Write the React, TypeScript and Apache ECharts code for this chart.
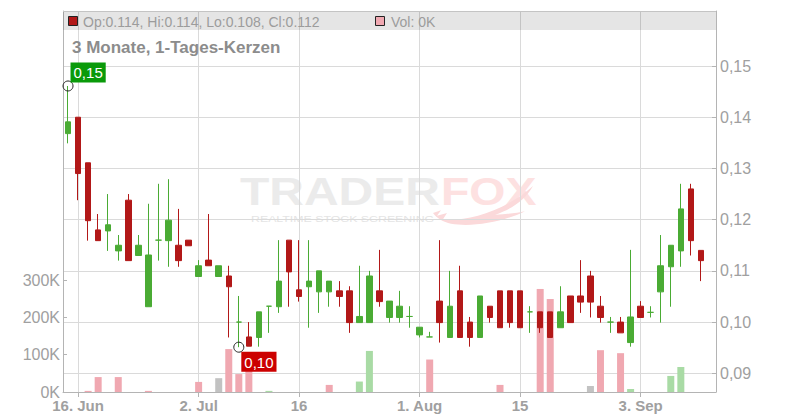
import React, { useEffect, useRef } from "react";
import * as echarts from "echarts";

// ---------- data ----------
const dates = [
  "2025-06-13", "2025-06-16", "2025-06-17", "2025-06-18", "2025-06-19", "2025-06-20",
  "2025-06-23", "2025-06-24", "2025-06-25", "2025-06-26", "2025-06-27", "2025-06-30",
  "2025-07-01", "2025-07-02", "2025-07-03", "2025-07-04", "2025-07-07", "2025-07-08",
  "2025-07-09", "2025-07-10", "2025-07-11", "2025-07-14", "2025-07-15", "2025-07-16",
  "2025-07-17", "2025-07-18", "2025-07-21", "2025-07-22", "2025-07-23", "2025-07-24",
  "2025-07-25", "2025-07-28", "2025-07-29", "2025-07-30", "2025-07-31", "2025-08-01",
  "2025-08-04", "2025-08-05", "2025-08-06", "2025-08-07", "2025-08-08", "2025-08-11",
  "2025-08-12", "2025-08-13", "2025-08-14", "2025-08-15", "2025-08-18", "2025-08-19",
  "2025-08-20", "2025-08-21", "2025-08-22", "2025-08-26", "2025-08-27", "2025-08-28",
  "2025-08-29", "2025-09-01", "2025-09-02", "2025-09-03", "2025-09-04", "2025-09-05",
  "2025-09-08", "2025-09-09", "2025-09-10", "2025-09-11", "2025-09-12",
];

const opens = [
  0.1368, 0.1400, 0.1311, 0.1180, 0.1178, 0.1139, 0.1238, 0.1130, 0.1030, 0.1160,
  0.1159, 0.1150, 0.1160, 0.1089, 0.1121, 0.1089, 0.1090, 0.1000, 0.0971, 0.0970,
  0.1031, 0.1030, 0.1160, 0.1063, 0.1069, 0.1059, 0.1059, 0.1061, 0.1061, 0.0999,
  0.0999, 0.1061, 0.1009, 0.1009, 0.1011, 0.0975, 0.0971, 0.1041, 0.0970, 0.1061,
  0.1000, 0.0970, 0.1031, 0.1061, 0.1061, 0.1061, 0.1020, 0.1020, 0.1020, 0.0989,
  0.1051, 0.1051, 0.1090, 0.1031, 0.1000, 0.1000, 0.0960, 0.1031, 0.1019, 0.1059,
  0.1108, 0.1139, 0.1260, 0.1140,
];
const highs = [
  0.1461, 0.1400, 0.1311, 0.1211, 0.1250, 0.1170, 0.1250, 0.1170, 0.1231, 0.1270,
  0.1279, 0.1221, 0.1160, 0.1121, 0.1211, 0.1110, 0.1110, 0.1051, 0.1000, 0.1020,
  0.1031, 0.1160, 0.1160, 0.1160, 0.1160, 0.1100, 0.1080, 0.1080, 0.1070, 0.1110,
  0.1100, 0.1141, 0.1041, 0.1061, 0.1031, 0.0990, 0.0981, 0.1160, 0.1100, 0.1110,
  0.1010, 0.1051, 0.1031, 0.1061, 0.1061, 0.1061, 0.1031, 0.1020, 0.1020, 0.1070,
  0.1051, 0.1121, 0.1100, 0.1051, 0.1010, 0.1010, 0.1141, 0.1041, 0.1031, 0.1170,
  0.1150, 0.1270, 0.1270, 0.1140,
];
const lows = [
  0.1349, 0.1238, 0.1159, 0.1159, 0.1139, 0.1120, 0.1120, 0.1130, 0.1030, 0.1120,
  0.1108, 0.1108, 0.1149, 0.1089, 0.1110, 0.1089, 0.0970, 0.0951, 0.0953, 0.0952,
  0.0979, 0.1018, 0.1030, 0.1040, 0.0989, 0.1018, 0.1030, 0.1030, 0.0979, 0.0999,
  0.0999, 0.1030, 0.0999, 0.0999, 0.0989, 0.0970, 0.0971, 0.0960, 0.0970, 0.0970,
  0.0952, 0.0970, 0.0999, 0.0989, 0.0989, 0.0989, 0.0979, 0.0979, 0.0970, 0.0989,
  0.0999, 0.1018, 0.1009, 0.0999, 0.0979, 0.0979, 0.0952, 0.1009, 0.1009, 0.0999,
  0.1030, 0.1108, 0.1130, 0.1080,
];
const closes = [
  0.1391, 0.1290, 0.1198, 0.1159, 0.1190, 0.1150, 0.1120, 0.1150, 0.1131, 0.1160,
  0.1199, 0.1120, 0.1149, 0.1110, 0.1110, 0.1110, 0.1069, 0.1000, 0.0953, 0.1020,
  0.1031, 0.1080, 0.1098, 0.1050, 0.1080, 0.1100, 0.1080, 0.1050, 0.0999, 0.1011,
  0.1090, 0.1040, 0.1041, 0.1031, 0.1011, 0.0990, 0.0971, 0.0999, 0.1031, 0.0970,
  0.0970, 0.1051, 0.1009, 0.0989, 0.0999, 0.0989, 0.1020, 0.0989, 0.0970, 0.1020,
  0.0999, 0.1039, 0.1039, 0.1009, 0.1000, 0.0979, 0.1010, 0.1009, 0.1019, 0.1110,
  0.1150, 0.1221, 0.1159, 0.1120,
];
const volumes = [
  0, 0, 3000, 40000, 0, 40000, 0, 0, 3000, 0,
  0, 0, 0, 27000, 0, 37000, 115000, 48000, 60000, 0,
  3000, 0, 0, 0, 0, 0, 19000, 0, 0, 28000,
  110000, 0, 0, 0, 0, 0, 87000, 0, 0, 0,
  0, 0, 0, 19000, 0, 0, 0, 276000, 249000, 0,
  0, 0, 16000, 112000, 0, 104000, 8000, 0, 0, 0,
  43000, 67000, 0, 0,
];

const tickDates = ["2025-06-16", "2025-07-02", "2025-07-16", "2025-08-01", "2025-08-15", "2025-09-03"];
const tickLabels = ["16. Jun", "2. Jul", "16", "1. Aug", "15", "3. Sep"];
const titleText = "3 Monate, 1-Tages-Kerzen";

// ---------- style ----------
const FONT = '"Liberation Sans", Arial, Helvetica, sans-serif';
const RED = "#b21818";
const GREEN = "#4aab34";
const VOL_PINK = "#f0a8b1";
const VOL_GREEN = "#a9dba5";
const VOL_GRAY = "#c2c2c2";
const AXIS = "#b4b4b4";
const GRID = "#dadada";
const LABEL = "#a0a0a0";

echarts.graphic.registerShape(
  "foxtail",
  echarts.graphic.extendPath(
    "M0,30 L8,27 L4,33 L14,30 L10,37 C30,40 70,30 100,0 C92,16 78,26 62,32 C74,31 84,30 92,28 C70,40 40,46 18,42 C10,40 4,36 0,30 Z",
    {}
  )
);

export default function App() {
  const ref = useRef<HTMLDivElement>(null);

  useEffect(() => {
    if (!ref.current) return;
    const chart = echarts.init(ref.current, null, { renderer: "svg" });

    const tickIdx = tickDates.map((d) => dates.indexOf(d));
    const showTick = (index: number) => tickIdx.indexOf(index) >= 0;

    const candleData = opens.map((o, i) => {
      const c = closes[i];
      const item: any = { value: [o, c, lows[i], highs[i]] };
      if (o === c) {
        item.itemStyle = { color: GREEN, color0: GREEN, borderColor: GREEN, borderColor0: GREEN };
      }
      return item;
    });

    const volData = volumes.map((v, i) => {
      const prev = i > 0 ? closes[i - 1] : closes[i];
      const diff = closes[i] - prev;
      const color = Math.abs(diff) < 1e-9 ? VOL_GRAY : diff > 0 ? VOL_GREEN : VOL_PINK;
      return { value: v, itemStyle: { color } };
    });

    let hiIdx = 0;
    highs.forEach((h, i) => { if (h > highs[hiIdx]) hiIdx = i; });
    let loIdx = 0;
    lows.forEach((l, i) => { if (l < lows[loIdx]) loIdx = i; });
    const fmt2 = (v: number) => v.toFixed(2).replace(".", ",");

    const last = opens.length - 1;
    const legendText = `Op:${opens[last].toFixed(3)}, Hi:${highs[last].toFixed(3)}, Lo:${lows[last].toFixed(3)}, Cl:${closes[last].toFixed(3)}`;
    const volText = `Vol: ${Math.round(volumes[last] / 1000)}K`;
    const lastColor = closes[last] >= opens[last] ? GREEN : RED;

    const markLabel = {
      show: true,
      color: "#ffffff",
      fontSize: 15,
      fontFamily: FONT,
      padding: [2, 3, 1, 3],
      lineHeight: 17,
    };

    const option: any = {
      animation: false,
      backgroundColor: "#ffffff",
      textStyle: { fontFamily: FONT },
      grid: [
        { left: 63, right: 84, top: 11, bottom: 28 },
        { left: 63, right: 84, top: 66, bottom: 46.7 },
        { left: 63, right: 84, top: 280, bottom: 28 },
      ],
      xAxis: [
        {
          type: "category",
          gridIndex: 0,
          data: dates,
          boundaryGap: true,
          axisLine: { show: true, lineStyle: { color: AXIS } },
          axisTick: { show: true, interval: showTick, alignWithLabel: true, length: 5, lineStyle: { color: AXIS } },
          axisLabel: {
            interval: showTick,
            formatter: (value: string) => {
              const k = tickDates.indexOf(value);
              return k >= 0 ? tickLabels[k] : "";
            },
            color: LABEL,
            fontSize: 15,
            fontWeight: "bold",
            fontFamily: FONT,
            margin: 6,
          },
          splitLine: { show: true, interval: showTick, alignWithLabel: true, lineStyle: { color: GRID } },
        },
        { type: "category", gridIndex: 1, data: dates, show: false },
        { type: "category", gridIndex: 2, data: dates, show: false },
      ],
      yAxis: [
        {
          type: "value",
          gridIndex: 0,
          position: "right",
          min: 0.08635,
          max: 0.16074,
          axisLine: { show: true, lineStyle: { color: AXIS } },
          axisTick: { show: false },
          axisLabel: { show: false },
          splitLine: { show: false },
        },
        {
          type: "value",
          gridIndex: 0,
          position: "left",
          min: 0,
          max: 1,
          axisLine: { show: true, lineStyle: { color: AXIS } },
          axisTick: { show: false },
          axisLabel: { show: false },
          splitLine: { show: false },
        },
        {
          type: "value",
          gridIndex: 1,
          position: "right",
          min: 0.09,
          max: 0.15,
          interval: 0.01,
          axisLine: { show: false },
          axisTick: { show: true, inside: true, length: 4, lineStyle: { color: AXIS } },
          axisLabel: {
            formatter: (v: number) => fmt2(v),
            color: LABEL,
            fontSize: 16,
            fontFamily: FONT,
            margin: 4,
          },
          splitLine: { show: true, lineStyle: { color: GRID } },
        },
        {
          type: "value",
          gridIndex: 2,
          position: "left",
          min: 0,
          max: 300000,
          interval: 100000,
          axisLine: { show: false },
          axisTick: { show: true, inside: true, length: 4, lineStyle: { color: AXIS } },
          axisLabel: {
            formatter: (v: number) => `${Math.round(v / 1000)}K`,
            color: LABEL,
            fontSize: 16,
            fontFamily: FONT,
            margin: 3,
          },
          splitLine: { show: false },
        },
      ],
      series: [
        {
          type: "bar",
          xAxisIndex: 2,
          yAxisIndex: 3,
          data: volData,
          barWidth: 7,
          z: 1,
          silent: true,
        },
        {
          type: "candlestick",
          xAxisIndex: 0,
          yAxisIndex: 0,
          data: candleData,
          barWidth: 6,
          z: 3,
          silent: true,
          itemStyle: {
            color: GREEN,
            color0: RED,
            borderColor: GREEN,
            borderColor0: RED,
            borderWidth: 1,
          },
          markPoint: {
            symbol: "circle",
            symbolSize: 10,
            silent: true,
            itemStyle: { color: "rgba(255,255,255,0)", borderColor: "#222222", borderWidth: 1 },
            data: [
              {
                coord: [dates[hiIdx], highs[hiIdx]],
                label: { ...markLabel, backgroundColor: "#0a9a0a", position: [8, -18], formatter: fmt2(highs[hiIdx]) },
              },
              {
                coord: [dates[loIdx], lows[loIdx]],
                label: { ...markLabel, backgroundColor: "#cc0000", position: [8, 10], formatter: fmt2(lows[loIdx]) },
              },
            ],
          },
        },
      ],
      graphic: [
        // watermark
        {
          type: "text", x: 240, y: 191, scaleX: 1.23, z: -1, silent: true,
          style: { text: "TRADER", fontSize: 39, fontWeight: "bold", fontFamily: FONT, fill: "#ebebeb", verticalAlign: "middle" },
        },
        {
          type: "text", x: 441, y: 191, scaleX: 1.19, z: -1, silent: true,
          style: { text: "FOX", fontSize: 39, fontWeight: "bold", fontFamily: FONT, fill: "#fde1e1", verticalAlign: "middle" },
        },
        {
          type: "foxtail", x: 433, y: 186, scaleX: 1.0, scaleY: 0.9, z: -1, silent: true,
          style: { fill: "#fbd9da" },
        },
        {
          type: "text", x: 251, y: 219, scaleX: 1.3, z: -1, silent: true,
          style: { text: "REALTIME STOCK SCREENING", fontSize: 9.5, fontFamily: FONT, fill: "#e4e4e4", verticalAlign: "middle" },
        },
        // header band
        {
          type: "rect", silent: true, z: 10,
          shape: { x: 63, y: 11, width: 653, height: 19 },
          style: { fill: "rgba(0,0,0,0.1)" },
        },
        {
          type: "line", silent: true, z: 10,
          shape: { x1: 63, y1: 11.5, x2: 716, y2: 11.5 },
          style: { stroke: "#c4c4c4", lineWidth: 1 },
        },
        {
          type: "rect", silent: true, z: 11,
          shape: { x: 68.5, y: 16.5, width: 9, height: 9 },
          style: { fill: lastColor, stroke: "#222222", lineWidth: 1 },
        },
        {
          type: "text", x: 83, y: 21.5, silent: true, z: 11,
          style: { text: legendText, fontSize: 14, fontFamily: FONT, fill: "#9c9c9c", verticalAlign: "middle" },
        },
        {
          type: "rect", silent: true, z: 11,
          shape: { x: 375.5, y: 16.5, width: 9, height: 9 },
          style: { fill: VOL_PINK, stroke: "#222222", lineWidth: 1 },
        },
        {
          type: "text", x: 391, y: 21.5, silent: true, z: 11,
          style: { text: volText, fontSize: 14, fontFamily: FONT, fill: "#9c9c9c", verticalAlign: "middle" },
        },
        // title
        {
          type: "text", x: 72, y: 47.5, silent: true, z: 11,
          style: { text: titleText, fontSize: 17, fontWeight: "bold", fontFamily: FONT, fill: "#8c8c8c", verticalAlign: "middle" },
        },
      ],
    };

    chart.setOption(option);
    return () => chart.dispose();
  }, []);

  return (
    <div
      ref={ref}
      style={{ position: "fixed", left: 0, top: 0, width: 800, height: 420, background: "#fff" }}
    />
  );
}
